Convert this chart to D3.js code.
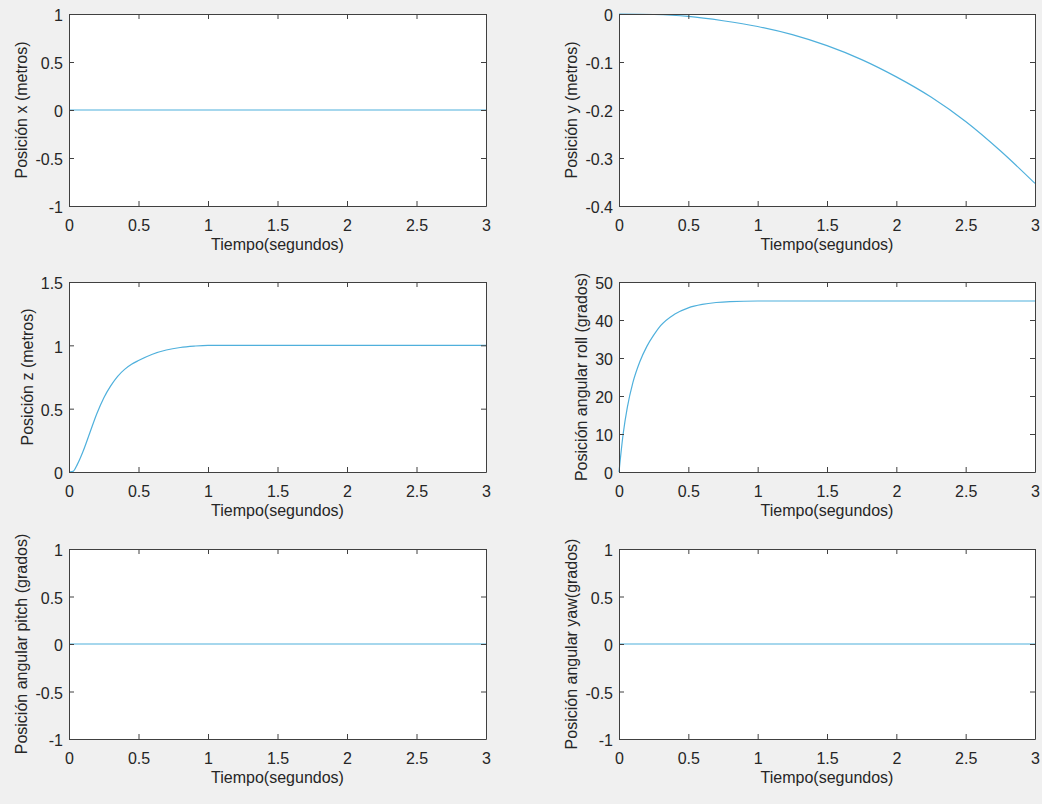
<!DOCTYPE html>
<html>
<head>
<meta charset="utf-8">
<script src="https://cdn.jsdelivr.net/npm/d3@7"></script>
<style>
  html, body { margin: 0; padding: 0; background: #f0f0f0; }
  svg { display: block; font-family: "Liberation Sans", Arial, Helvetica, sans-serif; }
  .tick text { fill: #262626; }
</style>
</head>
<body>
<svg id="fig" width="1042" height="804"></svg>
<script>
// Simulated quadrotor response, 0..3 s

const timeTicks = [0, 0.5, 1, 1.5, 2, 2.5, 3];
const timeTickLabels = ["0", "0.5", "1", "1.5", "2", "2.5", "3"];
const xLabel = "Tiempo(segundos)";

// x position (m)
const tX = [0, 3];
const posX = [0, 0];

// y position (m)
const tY = [0, 0.25, 0.5, 0.75, 1, 1.25, 1.5, 1.75, 2, 2.25, 2.5, 2.75, 3];
const posY = [0, -0.001, -0.005, -0.014, -0.026, -0.043, -0.066, -0.095, -0.131, -0.173, -0.224, -0.285, -0.353];

// z position (m)
const tZ = [0, 0.03, 0.06, 0.1, 0.15, 0.2, 0.25, 0.3, 0.35, 0.4, 0.45, 0.5, 0.6, 0.7, 0.8, 0.9, 1, 1.5, 3];
const posZ = [0, 0.005, 0.06, 0.16, 0.31, 0.46, 0.585, 0.68, 0.755, 0.81, 0.85, 0.88, 0.93, 0.963, 0.983, 0.994, 1, 1, 1];

// roll angle (deg)
const tRoll = [0, 0.03, 0.06, 0.1, 0.15, 0.2, 0.25, 0.3, 0.4, 0.5, 0.6, 0.7, 0.8, 1, 3];
const roll = [0, 10, 17, 23.5, 29, 33, 36, 38.5, 41.5, 43.2, 44.1, 44.6, 44.85, 45, 45];

// pitch angle (deg)
const tPitch = [0, 3];
const pitch = [0, 0];

// yaw angle (deg)
const tYaw = [0, 3];
const yaw = [0, 0];

// y-axis ticks per panel
const ticksUnit = [-1, -0.5, 0, 0.5, 1];
const ticksUnitLabels = ["-1", "-0.5", "0", "0.5", "1"];
const ticksY = [-0.4, -0.3, -0.2, -0.1, 0];
const ticksYLabels = ["-0.4", "-0.3", "-0.2", "-0.1", "0"];
const ticksZ = [0, 0.5, 1, 1.5];
const ticksZLabels = ["0", "0.5", "1", "1.5"];
const ticksRoll = [0, 10, 20, 30, 40, 50];
const ticksRollLabels = ["0", "10", "20", "30", "40", "50"];

const panels = [
  { t: tX, v: posX, ylim: [-1, 1], ticks: ticksUnit, labels: ticksUnitLabels, ylabel: "Posición x (metros)" },
  { t: tY, v: posY, ylim: [-0.4, 0], ticks: ticksY, labels: ticksYLabels, ylabel: "Posición y (metros)" },
  { t: tZ, v: posZ, ylim: [0, 1.5], ticks: ticksZ, labels: ticksZLabels, ylabel: "Posición z (metros)" },
  { t: tRoll, v: roll, ylim: [0, 50], ticks: ticksRoll, labels: ticksRollLabels, ylabel: "Posición angular roll (grados)" },
  { t: tPitch, v: pitch, ylim: [-1, 1], ticks: ticksUnit, labels: ticksUnitLabels, ylabel: "Posición angular pitch (grados)" },
  { t: tYaw, v: yaw, ylim: [-1, 1], ticks: ticksUnit, labels: ticksUnitLabels, ylabel: "Posición angular yaw(grados)" }
];

// subplot grid geometry
const colLeft = [69, 619];
const colWidth = [417, 416];
const rowTop = [14, 282, 549];
const rowHeight = [192, 190, 190];

const axisColor = "#404040";
const lineColor = "#4fb0dc";
const fontSize = 16;

const svg = d3.select("#fig");

panels.forEach((p, i) => {
  const col = i % 2, row = Math.floor(i / 2);
  const w = colWidth[col], h = rowHeight[row];
  const g = svg.append("g").attr("transform", `translate(${colLeft[col]},${rowTop[row]})`);

  const x = d3.scaleLinear().domain([0, 3]).range([0, w]);
  const y = d3.scaleLinear().domain(p.ylim).range([h, 0]);

  g.append("rect").attr("width", w).attr("height", h).attr("fill", "#ffffff");

  // data line
  const pts = p.t.map((t, k) => [t, p.v[k]]);
  g.append("path")
    .datum(pts)
    .attr("fill", "none")
    .attr("stroke", lineColor)
    .attr("stroke-width", 1.2)
    .attr("d", d3.line().x(d => x(d[0])).y(d => y(d[1])).curve(d3.curveMonotoneX));

  const styleAxis = sel => {
    sel.selectAll("path.domain").attr("stroke", axisColor).attr("stroke-width", 1);
    sel.selectAll(".tick line").attr("stroke", axisColor).attr("stroke-width", 1);
    sel.selectAll(".tick text").attr("font-size", fontSize).attr("font-family", null);
    sel.attr("font-family", null).attr("font-size", null);
  };

  // bottom axis with labels, inward ticks
  g.append("g").attr("transform", `translate(0,${h})`)
    .call(d3.axisBottom(x).tickValues(timeTicks).tickFormat((d, k) => timeTickLabels[k])
      .tickSizeInner(-5).tickSizeOuter(0).tickPadding(13.6))
    .call(styleAxis);
  // top axis, ticks only
  g.append("g")
    .call(d3.axisTop(x).tickValues(timeTicks).tickFormat("").tickSizeInner(-5).tickSizeOuter(0))
    .call(styleAxis);
  // left axis with labels
  const gl = g.append("g")
    .call(d3.axisLeft(y).tickValues(p.ticks).tickFormat((d, k) => p.labels[k])
      .tickSizeInner(-5).tickSizeOuter(0).tickPadding(6))
    .call(styleAxis);
  gl.selectAll(".tick text").attr("dy", "0.42em");
  // right axis, ticks only
  g.append("g").attr("transform", `translate(${w},0)`)
    .call(d3.axisRight(y).tickValues(p.ticks).tickFormat("").tickSizeInner(-5).tickSizeOuter(0))
    .call(styleAxis);

  // x label
  g.append("text")
    .attr("x", w / 2).attr("y", h + 43.5)
    .attr("text-anchor", "middle")
    .attr("font-size", fontSize)
    .attr("fill", "#262626")
    .text(xLabel);

  // y label placed just left of the tick labels
  let minX = 0;
  gl.selectAll(".tick text").each(function () {
    minX = Math.min(minX, this.getBBox().x);
  });
  const lx = minX - 8;
  g.append("text")
    .attr("transform", `translate(${lx},${h / 2}) rotate(-90)`)
    .attr("text-anchor", "middle")
    .attr("font-size", fontSize)
    .attr("fill", "#262626")
    .text(p.ylabel);
});
</script>
</body>
</html>
